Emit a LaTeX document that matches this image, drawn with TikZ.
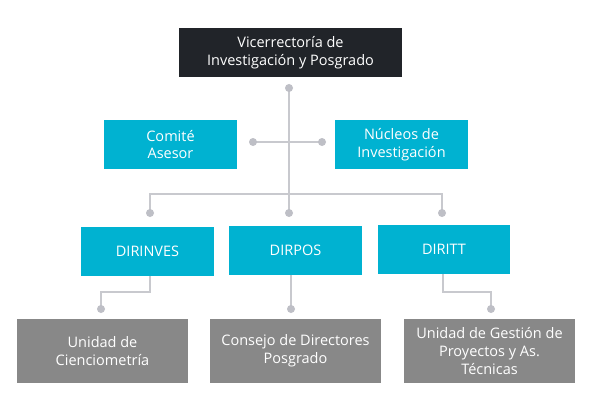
\documentclass[tikz,border=0pt]{standalone}
\usepackage{fontspec}
\setmainfont{Open Sans}
\definecolor{darkbox}{RGB}{33,36,41}
\definecolor{cyanbox}{RGB}{0,178,209}
\definecolor{graybox}{RGB}{136,136,136}
\definecolor{linegray}{RGB}{200,201,206}
\definecolor{dotgray}{RGB}{190,191,198}
\begin{document}
\begin{tikzpicture}[x=1pt,y=-1pt,
  boxbase/.style={rectangle,inner sep=0pt,align=center,text=white,
    font=\fontsize{14.5}{17.5}\selectfont},
  topbox/.style={boxbase,fill=darkbox,minimum width=223pt,minimum height=49pt},
  cybox/.style={boxbase,fill=cyanbox,minimum width=133pt,minimum height=49pt},
  grbox/.style={boxbase,fill=graybox,minimum width=171pt,minimum height=64pt,
    font=\fontsize{14.5}{18}\selectfont},
  conn/.style={draw=linegray,line width=1.8pt},
  dotmark/.style={fill=dotgray}
]
\useasboundingbox (0,0) rectangle (591,409);
\fill[white] (0,0) rectangle (591,409);

% nodes
\node[topbox] (vice) at (290.5,52.5) {Vicerrectoría de\\Investigación y Posgrado};
\node[cybox] (comite) at (170.5,144.5) {Comité\\Asesor};
\node[cybox] (nucleos) at (401.5,144.5) {Núcleos de\\Investigación};
\node[cybox] (dirinves) at (147.5,251.5) {DIRINVES};
\node[cybox] (dirpos) at (295.5,250.5) {DIRPOS};
\node[cybox,minimum width=132pt] (diritt) at (444,249.5) {DIRITT};
\node[grbox] (unidad) at (102.5,351) {Unidad de\\Cienciometría};
\node[grbox] (consejo) at (295.5,351) {Consejo de Directores\\Posgrado};
\node[grbox] (gestion) at (489.5,351) {Unidad de Gestión de\\Proyectos y As.\\Técnicas};

% dot coordinates
\coordinate (dtop) at (289,88);
\coordinate (dleft) at (253,142);
\coordinate (dright) at (322,142);
\coordinate (dcross) at (289,142);
\coordinate (dA) at (150,213);
\coordinate (dB) at (289,213);
\coordinate (dC) at (442,213);
\coordinate (hA) at (150,194);
\coordinate (hC) at (442,194);
\coordinate (eA) at (101,309);
\coordinate (eB) at (291,309);
\coordinate (eC) at (491,309);

% connectors
\draw[conn] (dtop) -- (dB);
\draw[conn] (dleft) -- (dright);
\draw[conn] (dA) -- (hA) -- (hC) -- (dC);
\draw[conn] (dirinves.south -| hA) |- ++(0,16) -| (eA);
\draw[conn] (dirpos.south -| eB) -- (eB);
\draw[conn] (diritt.south -| 443,0) |- ++(0,18) -| (eC);

% dots
\foreach \d in {dtop,dleft,dright,dA,dB,dC,eA,eB,eC}
  \fill[dotmark] (\d) circle (4pt);
\end{tikzpicture}
\end{document}
